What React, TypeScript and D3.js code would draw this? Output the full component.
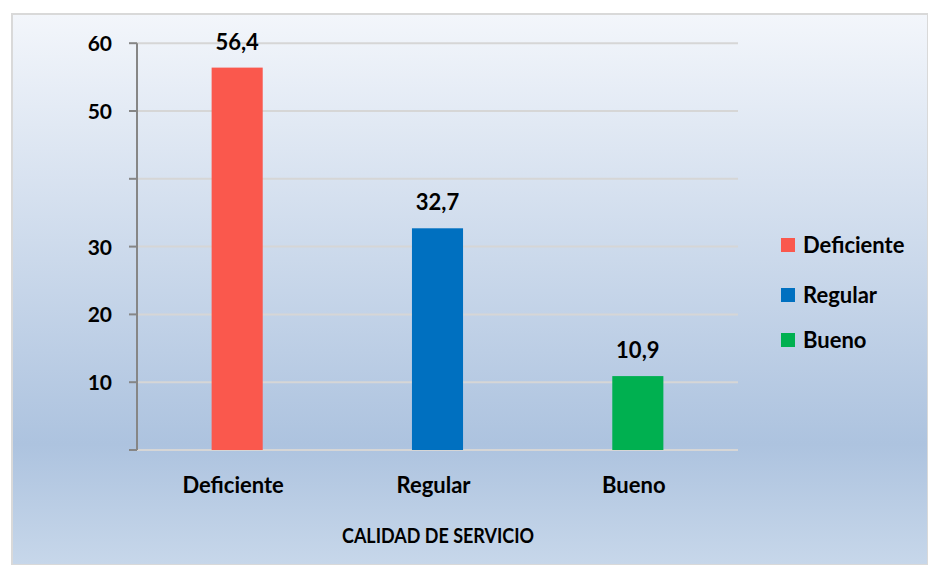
import React from "react";
import * as d3 from "d3";

const categories = ["Deficiente", "Regular", "Bueno"];
const values = [56.4, 32.7, 10.9];
const valueLabels = ["56,4", "32,7", "10,9"];
const colors = ["#fa584d", "#0070c0", "#00b050"];
const yTickValues = [0, 10, 20, 30, 40, 50, 60];
const yTickLabels = ["", "10", "20", "30", "", "50", "60"];
const axisTitle = "CALIDAD DE SERVICIO";

export default function App() {
  const width = 928,
    height = 565;
  const left = 137,
    right = 738,
    top = 43.2,
    bottom = 450;
  const font = "Lato, 'Open Sans', sans-serif";

  const xScale = d3
    .scaleBand<string>()
    .domain(categories)
    .range([left, right])
    .paddingInner(0.745)
    .paddingOuter(0.3725);

  const yScale = d3.scaleLinear().domain([0, 60]).range([bottom, top]);

  // legend rows (centre of the swatch)
  const legendY = [245, 295, 340];

  return (
    <div style={{ position: "absolute", left: 0, top: 0 }}>
      <svg width={width} height={height} style={{ display: "block" }}>
        <defs>
          <linearGradient id="bg" x1="0" y1="0" x2="0" y2="1">
            <stop offset="0" stopColor="#f3f6fb" />
            <stop offset="0.78" stopColor="#adc3df" />
            <stop offset="1" stopColor="#c7d7ea" />
          </linearGradient>
        </defs>
        <rect x={0} y={0} width={width} height={height} fill="#ffffff" />
        <rect
          x={12}
          y={14}
          width={width - 12}
          height={height - 14}
          fill="url(#bg)"
          stroke="#d9d9d9"
          strokeWidth={2}
        />

        {/* grid lines */}
        <g>
          {yTickValues.map((t) => (
            <line
              key={t}
              x1={left}
              x2={right}
              y1={yScale(t)}
              y2={yScale(t)}
              stroke="#d6d6d6"
              strokeWidth={2}
            />
          ))}
        </g>

        {/* bars */}
        <g>
          {categories.map((c, i) => (
            <rect
              key={c}
              x={xScale(c)}
              y={yScale(values[i])}
              width={xScale.bandwidth()}
              height={bottom - yScale(values[i])}
              fill={colors[i]}
            />
          ))}
        </g>

        {/* value labels */}
        <g>
          {categories.map((c, i) => (
            <text
              key={c}
              x={(xScale(c) ?? 0) + xScale.bandwidth() / 2}
              y={yScale(values[i]) - 18}
              textAnchor="middle"
              fontFamily={font}
              fontWeight="bold"
              fontSize={22}
            >
              {valueLabels[i]}
            </text>
          ))}
        </g>

        {/* y axis */}
        <g>
          <line x1={left} x2={left} y1={top} y2={bottom} stroke="#868686" strokeWidth={2} />
          {yTickValues.map((t, i) => (
            <g key={t}>
              <line
                x1={left - 8}
                x2={left}
                y1={yScale(t)}
                y2={yScale(t)}
                stroke="#868686"
                strokeWidth={2}
              />
              <text
                x={112}
                y={yScale(t) + 8}
                textAnchor="end"
                fontFamily={font}
                fontWeight="bold"
                fontSize={21}
              >
                {yTickLabels[i]}
              </text>
            </g>
          ))}
        </g>

        {/* x labels */}
        <g>
          {categories.map((c) => (
            <text
              key={c}
              x={(xScale(c) ?? 0) + xScale.bandwidth() / 2 - 4}
              y={493}
              textAnchor="middle"
              fontFamily={font}
              fontWeight="bold"
              fontSize={22}
            >
              {c}
            </text>
          ))}
          <text
            x={438}
            y={543}
            textAnchor="middle"
            fontFamily={font}
            fontWeight="bold"
            fontSize={20}
            textLength={192}
            lengthAdjust="spacingAndGlyphs"
          >
            {axisTitle}
          </text>
        </g>

        {/* legend */}
        <g>
          {categories.map((c, i) => (
            <g key={c}>
              <rect x={781} y={legendY[i] - 7} width={14} height={14} fill={colors[i]} />
              <text
                x={803}
                y={legendY[i] + 8}
                fontFamily={font}
                fontWeight="bold"
                fontSize={22}
              >
                {c}
              </text>
            </g>
          ))}
        </g>
      </svg>
    </div>
  );
}
